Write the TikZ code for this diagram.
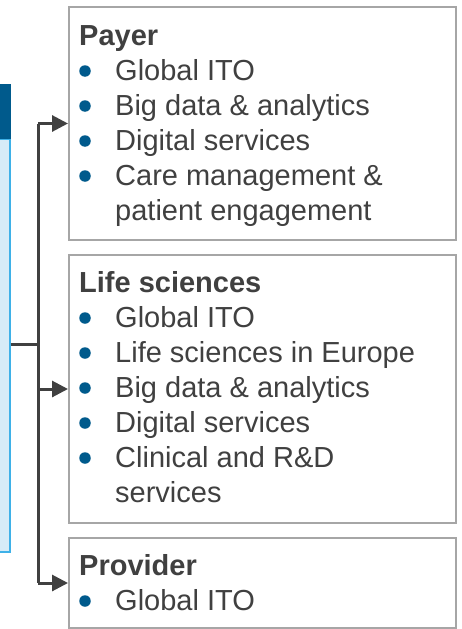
\documentclass[tikz,border=0pt]{standalone}
\usepackage{fontspec}
\setmainfont{Liberation Sans}
\usetikzlibrary{arrows.meta}
\definecolor{txtgray}{HTML}{404040}
\definecolor{boxgray}{HTML}{A6A6A6}
\definecolor{hdrblue}{HTML}{005A8C}
\definecolor{bodyblue}{HTML}{D6ECF8}
\definecolor{edgeblue}{HTML}{3EB1E8}
\definecolor{bulblue}{HTML}{005A8C}
\begin{document}
\begin{tikzpicture}[x=1pt,y=-1pt,
  box/.style={draw=boxgray,line width=2pt,fill=white,anchor=north west,inner sep=0pt,minimum width=387pt},
  ttl/.style={anchor=base west,inner sep=0pt,text=txtgray,font=\fontsize{29}{35}\selectfont\bfseries},
  itm/.style={anchor=base west,inner sep=0pt,text=txtgray,font=\fontsize{29}{35}\selectfont},
  bul/.style={circle,fill=bulblue,inner sep=0pt,minimum size=11.5pt},
  conn/.style={draw=txtgray,line width=3pt},
  arr/.style={conn,-{Triangle[length=16pt,width=16pt]}}]
\useasboundingbox (0,0) rectangle (462,629);
% left box (partly visible)
\node[fill=bodyblue,draw=edgeblue,line width=1.5pt,anchor=north west,inner sep=0pt,minimum width=40pt,minimum height=413pt] (lbody) at (-31,138) {};
\node[fill=hdrblue,anchor=north west,inner sep=0pt,minimum width=40.5pt,minimum height=55pt] (lhead) at (-30,84) {};
% right boxes
\node[box,minimum height=233pt] (payer) at (68,6) {};
\node[box,minimum height=268pt] (life) at (68,254) {};
\node[box,minimum height=90pt] (prov) at (68,537) {};
% Payer text
\node[ttl] (pt) at (79,45) {Payer};
\foreach \y/\t [count=\i] in {80/Global ITO,115/Big data \& analytics,150/Digital services,185/Care management \&}{
  \node[bul] (pb\i) at (85,\y-9) {};
  \node[itm] (pi\i) at (115,\y) {\t};
}
\node[itm] (pi5) at (115,220) {patient engagement};
% Life sciences text
\node[ttl] (lt) at (79,292) {Life sciences};
\foreach \y/\t [count=\i] in {327/Global ITO,362/Life sciences in Europe,397/Big data \& analytics,432/Digital services,467/Clinical and R\&D}{
  \node[bul] (lb\i) at (85,\y-9) {};
  \node[itm] (li\i) at (115,\y) {\t};
}
\node[itm] (li6) at (115,502) {services};
% Provider text
\node[ttl] (vt) at (79,575) {Provider};
\node[bul] (vb1) at (85,601) {};
\node[itm] (vi1) at (115,610) {Global ITO};
% connectors
\coordinate (j) at (38,344);
\draw[conn] (lbody.east |- j) -- (j);
\draw[conn] (j |- payer.west) -- (j |- prov.west);
\draw[arr] (j |- payer.west) -- (payer.west);
\draw[arr] (j |- life.west) -- (life.west);
\draw[arr] (j |- prov.west) -- (prov.west);
\end{tikzpicture}
\end{document}
